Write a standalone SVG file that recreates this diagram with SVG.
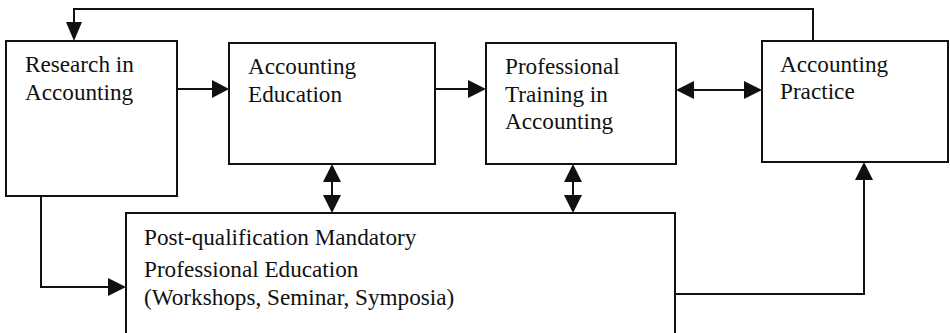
<svg xmlns="http://www.w3.org/2000/svg" width="950" height="333" viewBox="0 0 950 333">
  <style>
    .box { fill: #fff; stroke: #111; stroke-width: 2; }
    .lbl { font-family: "Liberation Serif", "Times New Roman", serif; font-size: 23.2px; fill: #111; }
    .wire { fill: none; stroke: #111; stroke-width: 2; }
    .head { fill: #111; }
  </style>
  <rect width="950" height="333" fill="#fff"/>

  <g id="connectors">
    <!-- feedback loop from practice back to research -->
    <path class="wire" d="M813,41 V9 H74 V26" stroke-width="3"/>
    <polygon class="head" points="66,22 82,22 74,41"/>
    <!-- research -> education -->
    <line class="wire" x1="177" y1="89" x2="214" y2="89"/>
    <polygon class="head" points="212,80 212,98 229,89"/>
    <!-- education -> training -->
    <line class="wire" x1="435" y1="89" x2="470" y2="89"/>
    <polygon class="head" points="468,80 468,98 486,89"/>
    <!-- training <-> practice -->
    <line class="wire" x1="690" y1="90" x2="748" y2="90"/>
    <polygon class="head" points="694,81 694,99 676,90"/>
    <polygon class="head" points="744,81 744,99 762,90"/>
    <!-- education <-> CPD -->
    <line class="wire" x1="332" y1="178" x2="332" y2="200"/>
    <polygon class="head" points="323,182 341,182 332,164"/>
    <polygon class="head" points="323,195 341,195 332,213"/>
    <!-- training <-> CPD -->
    <line class="wire" x1="573" y1="178" x2="573" y2="200"/>
    <polygon class="head" points="564,182 582,182 573,164"/>
    <polygon class="head" points="564,195 582,195 573,213"/>
    <!-- research -> CPD -->
    <path class="wire" d="M41,196 V287 H112"/>
    <polygon class="head" points="108,278 108,296 126,287"/>
    <!-- CPD -> practice -->
    <path class="wire" d="M675,294 H864 V178"/>
    <polygon class="head" points="855,180 873,180 864,162"/>
  </g>

  <g id="research">
    <rect class="box" x="6" y="41" width="171" height="155"/>
    <text class="lbl" x="25" y="72">Research in</text>
    <text class="lbl" x="25" y="100">Accounting</text>
  </g>

  <g id="education">
    <rect class="box" x="229" y="43" width="206" height="121"/>
    <text class="lbl" x="248" y="74">Accounting</text>
    <text class="lbl" x="248" y="102">Education</text>
  </g>

  <g id="training">
    <rect class="box" x="486" y="43" width="190" height="121"/>
    <text class="lbl" x="505" y="74">Professional</text>
    <text class="lbl" x="505" y="102">Training in</text>
    <text class="lbl" x="505" y="129">Accounting</text>
  </g>

  <g id="practice">
    <rect class="box" x="762" y="41" width="186" height="121"/>
    <text class="lbl" x="780" y="72">Accounting</text>
    <text class="lbl" x="780" y="99">Practice</text>
  </g>

  <g id="cpd">
    <rect class="box" x="126" y="213" width="549" height="130"/>
    <text class="lbl" x="144" y="245">Post-qualification Mandatory</text>
    <text class="lbl" x="144" y="277">Professional Education</text>
    <text class="lbl" x="144" y="305">(Workshops, Seminar, Symposia)</text>
  </g>
</svg>
